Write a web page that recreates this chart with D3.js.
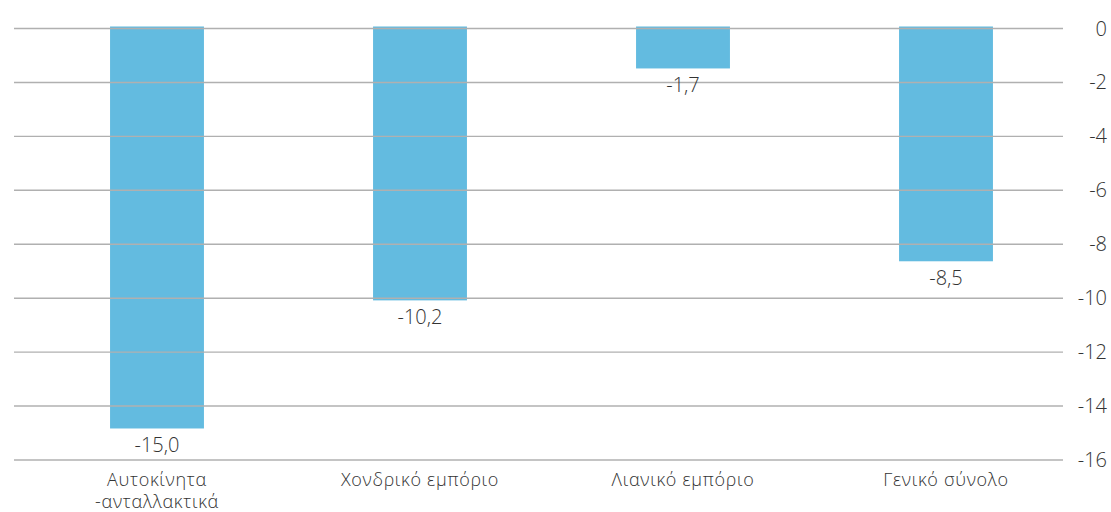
<!DOCTYPE html>
<html><head><meta charset="utf-8">
<script src="https://cdn.jsdelivr.net/npm/d3@7"></script>
<style>
html,body{margin:0;padding:0;background:#fff;}
text{font-family:"Open Sans","Noto Sans",sans-serif;fill:#333;font-weight:300;}
</style></head>
<body><svg id="c" width="1111" height="512"></svg>
<script>
const categories = [["Αυτοκίνητα","-ανταλλακτικά"],["Χονδρικό εμπόριο"],["Λιανικό εμπόριο"],["Γενικό σύνολο"]];
const barValues = [-14.85, -10.1, -1.5, -8.65];
const labelValues = ["-15,0","-10,2","-1,7","-8,5"];
const yTicks = [0,-2,-4,-6,-8,-10,-12,-14,-16];

const svg = d3.select("#c");
const y = d3.scaleLinear().domain([0,-16]).range([28,459.5]);
const x = d3.scaleBand().domain(d3.range(categories.length)).range([25.5,1077.5]).paddingInner(0.643).paddingOuter(0.3215);

svg.append("g").selectAll("rect").data(barValues).join("rect")
  .attr("x",(d,i)=>x(i)).attr("width",x.bandwidth())
  .attr("y",y(0)-1.5).attr("height",d=>y(d)-y(0)+1.5)
  .attr("fill","#63bbe0");

const yAxis = d3.axisRight(y).tickValues(yTicks).tickSize(1063-14).tickFormat(d=>d===0?"0":d3.format("d")(d).replace("−","-"));
const g = svg.append("g").attr("transform","translate(14,0)").call(yAxis);
g.select(".domain").remove();
g.selectAll(".tick line").attr("stroke","#b0b0b0").attr("stroke-width",1.4);
g.selectAll(".tick text").attr("x",1107-14).attr("text-anchor","end").attr("dy","0.35em")
  .style("font-size","20px").style("font-family","'Open Sans','Noto Sans',sans-serif").style("font-weight","300").attr("fill","#333");

svg.append("g").selectAll("text").data(barValues).join("text")
  .attr("x",(d,i)=>x(i)+x.bandwidth()/2).attr("y",d=>y(d)+24)
  .attr("text-anchor","middle").style("font-size","20px")
  .text((d,i)=>labelValues[i]);

const cat = svg.append("g").selectAll("text").data(categories).join("text")
  .attr("x",(d,i)=>x(i)+x.bandwidth()/2).attr("y",486)
  .attr("text-anchor","middle").style("font-size","18px").style("letter-spacing","0.7px");
cat.each(function(d){
  const t=d3.select(this);
  d.forEach((line,j)=>t.append("tspan").attr("x",t.attr("x")).attr("dy",j===0?0:22).text(line));
});
</script></body></html>
